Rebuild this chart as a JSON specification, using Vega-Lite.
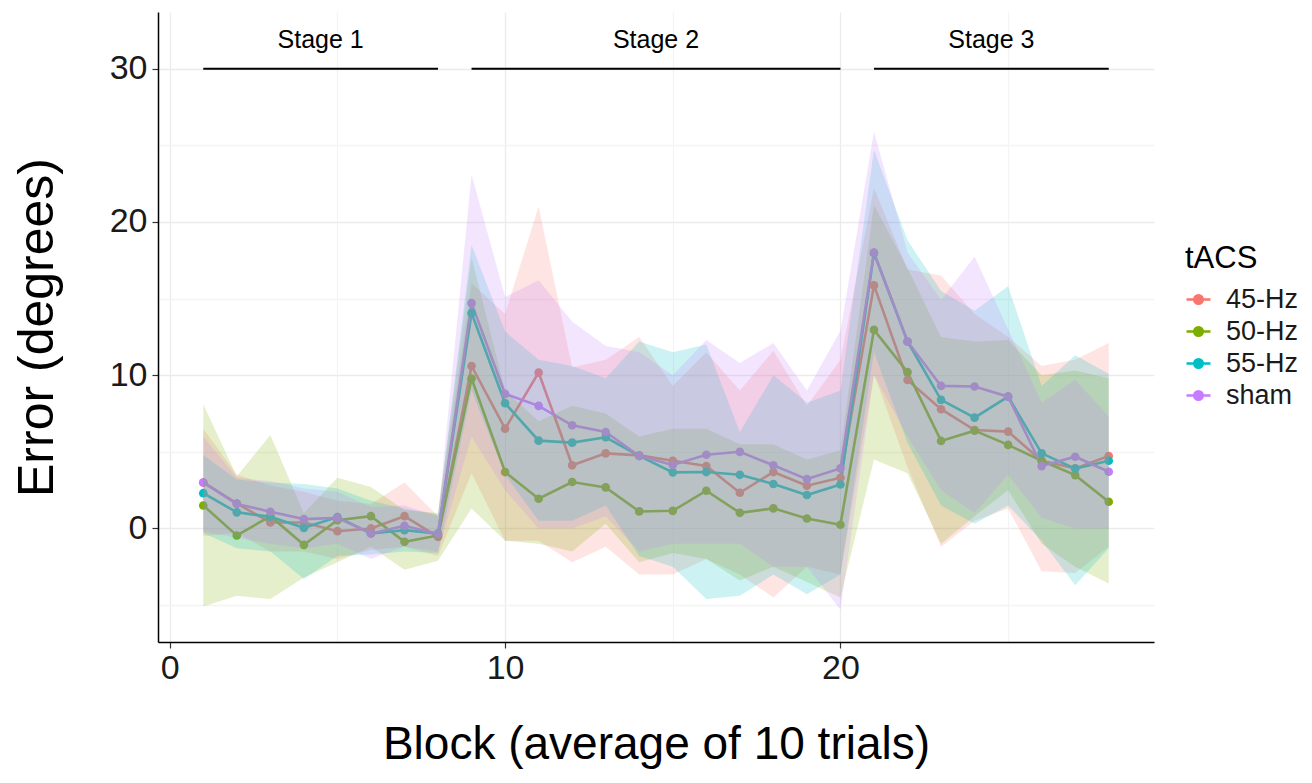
{
  "$schema": "https://vega.github.io/schema/vega-lite/v6.json",
  "autosize": {"type": "none"},
  "width": 996,
  "height": 630,
  "padding": {"left": 158, "top": 12, "right": 158, "bottom": 141},
  "background": "white",
  "config": {
    "font": "Liberation Sans",
    "view": {"stroke": null},
    "axis": {"labelFont": "Liberation Sans", "titleFont": "Liberation Sans", "titleFontWeight": "normal", "labelColor": "#1a1a1a", "titleColor": "#000000"}
  },
  "datasets": {
    "series": [
      {"block": 1, "tACS": "45-Hz", "mean": 3.0, "lower": -0.5, "upper": 6.5},
      {"block": 2, "tACS": "45-Hz", "mean": 1.63, "lower": -0.3, "upper": 3.5},
      {"block": 3, "tACS": "45-Hz", "mean": 0.39, "lower": -1.5, "upper": 2.8},
      {"block": 4, "tACS": "45-Hz", "mean": 0.39, "lower": -1.5, "upper": 2.4},
      {"block": 5, "tACS": "45-Hz", "mean": -0.18, "lower": -2.0, "upper": 1.8},
      {"block": 6, "tACS": "45-Hz", "mean": 0.0, "lower": -1.4, "upper": 1.6},
      {"block": 7, "tACS": "45-Hz", "mean": 0.8, "lower": -1.2, "upper": 3.0},
      {"block": 8, "tACS": "45-Hz", "mean": -0.55, "lower": -1.8, "upper": 0.8},
      {"block": 9, "tACS": "45-Hz", "mean": 10.6, "lower": 3.6, "upper": 16.0},
      {"block": 10, "tACS": "45-Hz", "mean": 6.51, "lower": -0.8, "upper": 14.0},
      {"block": 11, "tACS": "45-Hz", "mean": 10.17, "lower": -0.8, "upper": 21.0},
      {"block": 12, "tACS": "45-Hz", "mean": 4.12, "lower": -2.2, "upper": 10.5},
      {"block": 13, "tACS": "45-Hz", "mean": 4.9, "lower": -1.2, "upper": 11.0},
      {"block": 14, "tACS": "45-Hz", "mean": 4.77, "lower": -3.0, "upper": 12.5},
      {"block": 15, "tACS": "45-Hz", "mean": 4.42, "lower": -3.0, "upper": 9.3},
      {"block": 16, "tACS": "45-Hz", "mean": 4.07, "lower": -2.0, "upper": 11.5},
      {"block": 17, "tACS": "45-Hz", "mean": 2.33, "lower": -3.0, "upper": 9.0},
      {"block": 18, "tACS": "45-Hz", "mean": 3.68, "lower": -4.5, "upper": 11.6},
      {"block": 19, "tACS": "45-Hz", "mean": 2.79, "lower": -2.5, "upper": 8.0},
      {"block": 20, "tACS": "45-Hz", "mean": 3.31, "lower": -3.0, "upper": 11.0},
      {"block": 21, "tACS": "45-Hz", "mean": 15.86, "lower": 10.1, "upper": 22.2},
      {"block": 22, "tACS": "45-Hz", "mean": 9.69, "lower": 4.0, "upper": 16.9},
      {"block": 23, "tACS": "45-Hz", "mean": 7.78, "lower": -1.2, "upper": 16.5},
      {"block": 24, "tACS": "45-Hz", "mean": 6.42, "lower": 0.5, "upper": 14.0},
      {"block": 25, "tACS": "45-Hz", "mean": 6.32, "lower": 1.3, "upper": 12.5},
      {"block": 26, "tACS": "45-Hz", "mean": 4.42, "lower": -2.8, "upper": 10.6},
      {"block": 27, "tACS": "45-Hz", "mean": 3.92, "lower": -2.9, "upper": 11.0},
      {"block": 28, "tACS": "45-Hz", "mean": 4.73, "lower": -1.2, "upper": 12.1},

      {"block": 1, "tACS": "50-Hz", "mean": 1.5, "lower": -5.1, "upper": 8.1},
      {"block": 2, "tACS": "50-Hz", "mean": -0.46, "lower": -4.4, "upper": 3.4},
      {"block": 3, "tACS": "50-Hz", "mean": 0.8, "lower": -4.6, "upper": 6.1},
      {"block": 4, "tACS": "50-Hz", "mean": -1.07, "lower": -3.2, "upper": 1.0},
      {"block": 5, "tACS": "50-Hz", "mean": 0.54, "lower": -2.2, "upper": 3.3},
      {"block": 6, "tACS": "50-Hz", "mean": 0.8, "lower": -1.2, "upper": 2.7},
      {"block": 7, "tACS": "50-Hz", "mean": -0.87, "lower": -2.7, "upper": 1.2},
      {"block": 8, "tACS": "50-Hz", "mean": -0.46, "lower": -2.1, "upper": 1.0},
      {"block": 9, "tACS": "50-Hz", "mean": 9.78, "lower": 1.3, "upper": 17.7},
      {"block": 10, "tACS": "50-Hz", "mean": 3.68, "lower": -0.8, "upper": 9.0},
      {"block": 11, "tACS": "50-Hz", "mean": 1.94, "lower": -1.0, "upper": 7.0},
      {"block": 12, "tACS": "50-Hz", "mean": 3.03, "lower": -1.5, "upper": 8.0},
      {"block": 13, "tACS": "50-Hz", "mean": 2.68, "lower": 0.3, "upper": 7.5},
      {"block": 14, "tACS": "50-Hz", "mean": 1.11, "lower": -2.2, "upper": 6.0},
      {"block": 15, "tACS": "50-Hz", "mean": 1.15, "lower": -1.6, "upper": 6.5},
      {"block": 16, "tACS": "50-Hz", "mean": 2.46, "lower": -2.0, "upper": 6.5},
      {"block": 17, "tACS": "50-Hz", "mean": 1.02, "lower": -3.4, "upper": 5.5},
      {"block": 18, "tACS": "50-Hz", "mean": 1.31, "lower": -2.5, "upper": 5.5},
      {"block": 19, "tACS": "50-Hz", "mean": 0.65, "lower": -3.5, "upper": 4.5},
      {"block": 20, "tACS": "50-Hz", "mean": 0.24, "lower": -4.5, "upper": 5.1},
      {"block": 21, "tACS": "50-Hz", "mean": 12.96, "lower": 4.5, "upper": 21.1},
      {"block": 22, "tACS": "50-Hz", "mean": 10.2, "lower": 3.6, "upper": 17.0},
      {"block": 23, "tACS": "50-Hz", "mean": 5.71, "lower": -1.0, "upper": 12.5},
      {"block": 24, "tACS": "50-Hz", "mean": 6.38, "lower": 0.8, "upper": 12.2},
      {"block": 25, "tACS": "50-Hz", "mean": 5.45, "lower": 2.5, "upper": 12.3},
      {"block": 26, "tACS": "50-Hz", "mean": 4.42, "lower": -1.0, "upper": 10.0},
      {"block": 27, "tACS": "50-Hz", "mean": 3.48, "lower": -2.5, "upper": 10.3},
      {"block": 28, "tACS": "50-Hz", "mean": 1.74, "lower": -3.6, "upper": 9.8},

      {"block": 1, "tACS": "55-Hz", "mean": 2.3, "lower": -0.3, "upper": 4.8},
      {"block": 2, "tACS": "55-Hz", "mean": 1.05, "lower": -1.3, "upper": 3.2},
      {"block": 3, "tACS": "55-Hz", "mean": 0.76, "lower": -1.5, "upper": 3.0},
      {"block": 4, "tACS": "55-Hz", "mean": 0.04, "lower": -3.3, "upper": 2.9},
      {"block": 5, "tACS": "55-Hz", "mean": 0.74, "lower": -1.8, "upper": 2.6},
      {"block": 6, "tACS": "55-Hz", "mean": -0.33, "lower": -1.7, "upper": 1.8},
      {"block": 7, "tACS": "55-Hz", "mean": -0.11, "lower": -1.5, "upper": 1.3},
      {"block": 8, "tACS": "55-Hz", "mean": -0.33, "lower": -1.6, "upper": 0.9},
      {"block": 9, "tACS": "55-Hz", "mean": 14.05, "lower": 9.0, "upper": 18.5},
      {"block": 10, "tACS": "55-Hz", "mean": 8.17, "lower": 3.5, "upper": 12.85},
      {"block": 11, "tACS": "55-Hz", "mean": 5.73, "lower": 0.5, "upper": 11.0},
      {"block": 12, "tACS": "55-Hz", "mean": 5.6, "lower": 0.5, "upper": 10.6},
      {"block": 13, "tACS": "55-Hz", "mean": 5.95, "lower": 1.5, "upper": 9.8},
      {"block": 14, "tACS": "55-Hz", "mean": 4.73, "lower": -1.8, "upper": 12.2},
      {"block": 15, "tACS": "55-Hz", "mean": 3.66, "lower": -2.5, "upper": 11.5},
      {"block": 16, "tACS": "55-Hz", "mean": 3.68, "lower": -4.6, "upper": 12.0},
      {"block": 17, "tACS": "55-Hz", "mean": 3.5, "lower": -4.4, "upper": 6.3},
      {"block": 18, "tACS": "55-Hz", "mean": 2.9, "lower": -3.0, "upper": 10.0},
      {"block": 19, "tACS": "55-Hz", "mean": 2.18, "lower": -4.3, "upper": 8.2},
      {"block": 20, "tACS": "55-Hz", "mean": 2.87, "lower": -3.0, "upper": 9.0},
      {"block": 21, "tACS": "55-Hz", "mean": 17.97, "lower": 11.5, "upper": 24.7},
      {"block": 22, "tACS": "55-Hz", "mean": 12.2, "lower": 5.6, "upper": 18.8},
      {"block": 23, "tACS": "55-Hz", "mean": 8.39, "lower": 1.5, "upper": 15.5},
      {"block": 24, "tACS": "55-Hz", "mean": 7.23, "lower": 0.3, "upper": 14.2},
      {"block": 25, "tACS": "55-Hz", "mean": 8.6, "lower": 1.5, "upper": 15.8},
      {"block": 26, "tACS": "55-Hz", "mean": 4.9, "lower": -0.8, "upper": 9.3},
      {"block": 27, "tACS": "55-Hz", "mean": 3.9, "lower": -3.7, "upper": 11.3},
      {"block": 28, "tACS": "55-Hz", "mean": 4.42, "lower": -1.3, "upper": 10.1},

      {"block": 1, "tACS": "sham", "mean": 3.0, "lower": -0.2, "upper": 6.0},
      {"block": 2, "tACS": "sham", "mean": 1.6, "lower": -0.6, "upper": 3.3},
      {"block": 3, "tACS": "sham", "mean": 1.09, "lower": -1.0, "upper": 3.1},
      {"block": 4, "tACS": "sham", "mean": 0.61, "lower": -1.3, "upper": 2.6},
      {"block": 5, "tACS": "sham", "mean": 0.69, "lower": -1.0, "upper": 2.4},
      {"block": 6, "tACS": "sham", "mean": -0.33, "lower": -2.0, "upper": 1.4},
      {"block": 7, "tACS": "sham", "mean": 0.17, "lower": -1.2, "upper": 1.5},
      {"block": 8, "tACS": "sham", "mean": -0.37, "lower": -1.5, "upper": 0.8},
      {"block": 9, "tACS": "sham", "mean": 14.7, "lower": 6.0, "upper": 23.1},
      {"block": 10, "tACS": "sham", "mean": 8.78, "lower": 2.5, "upper": 15.1},
      {"block": 11, "tACS": "sham", "mean": 8.0, "lower": 0.0, "upper": 16.2},
      {"block": 12, "tACS": "sham", "mean": 6.73, "lower": 0.0, "upper": 13.5},
      {"block": 13, "tACS": "sham", "mean": 6.29, "lower": 0.8, "upper": 11.9},
      {"block": 14, "tACS": "sham", "mean": 4.73, "lower": -1.5, "upper": 11.5},
      {"block": 15, "tACS": "sham", "mean": 4.14, "lower": -1.0, "upper": 10.0},
      {"block": 16, "tACS": "sham", "mean": 4.81, "lower": -1.0, "upper": 12.3},
      {"block": 17, "tACS": "sham", "mean": 5.0, "lower": -1.0, "upper": 10.8},
      {"block": 18, "tACS": "sham", "mean": 4.12, "lower": -2.5, "upper": 12.1},
      {"block": 19, "tACS": "sham", "mean": 3.22, "lower": -2.5, "upper": 9.0},
      {"block": 20, "tACS": "sham", "mean": 3.92, "lower": -5.3, "upper": 12.9},
      {"block": 21, "tACS": "sham", "mean": 18.0, "lower": 10.0, "upper": 25.9},
      {"block": 22, "tACS": "sham", "mean": 12.2, "lower": 6.0, "upper": 18.0},
      {"block": 23, "tACS": "sham", "mean": 9.3, "lower": 2.5, "upper": 14.9},
      {"block": 24, "tACS": "sham", "mean": 9.26, "lower": 1.0, "upper": 17.75},
      {"block": 25, "tACS": "sham", "mean": 8.6, "lower": 3.5, "upper": 13.0},
      {"block": 26, "tACS": "sham", "mean": 4.07, "lower": 0.7, "upper": 8.2},
      {"block": 27, "tACS": "sham", "mean": 4.68, "lower": 0.0, "upper": 9.7},
      {"block": 28, "tACS": "sham", "mean": 3.7, "lower": 0.0, "upper": 7.3}
    ],
    "stages": [
      {"stage": "Stage 1", "start": 1, "end": 8, "center": 4.5, "level": 30},
      {"stage": "Stage 2", "start": 9, "end": 20, "center": 14.5, "level": 30},
      {"stage": "Stage 3", "start": 21, "end": 28, "center": 24.5, "level": 30}
    ]
  },
  "layer": [
    {
      "data": {"name": "series"},
      "mark": {"type": "line", "strokeWidth": 2.6},
      "encoding": {
        "x": {
          "field": "block", "type": "quantitative",
          "scale": {"domain": [-0.35, 29.35], "nice": false, "zero": false},
          "axis": {
            "title": "Block (average of 10 trials)",
            "values": [0, 5, 10, 15, 20, 25],
            "labelExpr": "datum.value % 10 === 0 ? datum.label : ''",
            "labelFontSize": 34, "labelPadding": 3,
            "tickSize": 6, "tickColor": "#333333", "tickWidth": 1.2,
            "tickOpacity": {"condition": {"test": "datum.value % 10 === 0", "value": 1}, "value": 0},
            "gridColor": {"condition": {"test": "datum.value % 10 === 0", "value": "#ebebeb"}, "value": "#f4f4f4"},
            "gridWidth": 1.3,
            "domainColor": "#000000", "domainWidth": 1.5,
            "titleFontSize": 46, "titlePadding": 37
          }
        },
        "y": {
          "field": "mean", "type": "quantitative",
          "scale": {"domain": [-7.41, 33.7], "nice": false, "zero": false},
          "axis": {
            "title": "Error (degrees)",
            "values": [-5, 0, 5, 10, 15, 20, 25, 30],
            "labelExpr": "datum.value % 10 === 0 ? datum.label : ''",
            "labelFontSize": 34, "labelPadding": 5,
            "tickSize": 6, "tickColor": "#333333", "tickWidth": 1.2,
            "tickOpacity": {"condition": {"test": "datum.value % 10 === 0", "value": 1}, "value": 0},
            "gridColor": {"condition": {"test": "datum.value % 10 === 0", "value": "#ebebeb"}, "value": "#f4f4f4"},
            "gridWidth": 1.3,
            "domainColor": "#000000", "domainWidth": 1.5,
            "titleFontSize": 50, "titlePadding": 47
          }
        },
        "color": {
          "field": "tACS", "type": "nominal",
          "scale": {"domain": ["45-Hz", "50-Hz", "55-Hz", "sham"], "range": ["#F8766D", "#7CAE00", "#00BFC4", "#C77CFF"]},
          "legend": {
            "title": "tACS", "orient": "none", "legendX": 1027, "legendY": 232,
            "titleFontSize": 31, "titleFontWeight": "normal", "titleFont": "Liberation Sans", "titleColor": "#000000", "titlePadding": 11,
            "labelFontSize": 27, "labelFont": "Liberation Sans", "labelColor": "#1a1a1a", "labelOffset": 14,
            "symbolType": "M-1,0H1M0.35,0A0.35,0.35,0,1,1,-0.35,0A0.35,0.35,0,1,1,0.35,0Z",
            "symbolSize": 576, "symbolStrokeWidth": 2.6, "symbolOpacity": 1, "rowPadding": 4, "padding": 0,
            "encode": {"symbols": {"update": {"fill": {"scale": "color", "field": "value"}, "stroke": {"scale": "color", "field": "value"}, "opacity": {"value": 1}}}}
          }
        }
      }
    },
    {
      "data": {"name": "series"},
      "mark": {"type": "circle", "size": 75, "opacity": 1},
      "encoding": {
        "x": {"field": "block", "type": "quantitative"},
        "y": {"field": "mean", "type": "quantitative"},
        "color": {"field": "tACS", "type": "nominal"}
      }
    },
    {
      "data": {"name": "series"},
      "mark": {"type": "area", "opacity": 0.2},
      "encoding": {
        "x": {"field": "block", "type": "quantitative"},
        "y": {"field": "lower", "type": "quantitative"},
        "y2": {"field": "upper"},
        "color": {"field": "tACS", "type": "nominal"}
      }
    },
    {
      "data": {"name": "stages"},
      "mark": {"type": "rule", "color": "#000000", "strokeWidth": 2},
      "encoding": {
        "x": {"field": "start", "type": "quantitative"},
        "x2": {"field": "end"},
        "y": {"field": "level", "type": "quantitative"}
      }
    },
    {
      "data": {"name": "stages"},
      "mark": {"type": "text", "fontSize": 25, "font": "Liberation Sans", "color": "#000000", "baseline": "middle", "dy": -29},
      "encoding": {
        "x": {"field": "center", "type": "quantitative"},
        "y": {"field": "level", "type": "quantitative"},
        "text": {"field": "stage"}
      }
    }
  ]
}
